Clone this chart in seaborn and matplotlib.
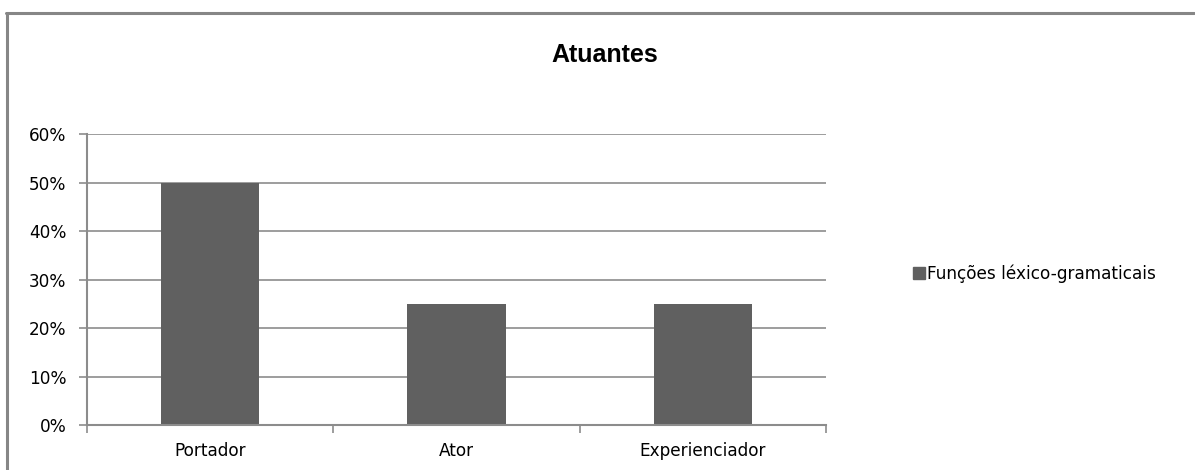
import matplotlib
matplotlib.use("Agg")
import matplotlib.pyplot as plt
import seaborn as sns
import pandas as pd
from matplotlib.lines import Line2D
from matplotlib.ticker import PercentFormatter, FixedLocator

categories = ["Portador", "Ator", "Experienciador"]
values = [0.50, 0.25, 0.25]
series_name = "Funções léxico-gramaticais"
title = "Atuantes"

sns.set_theme(style="white")
plt.rcParams["font.family"] = ["DejaVu Sans"]

df = pd.DataFrame({"categoria": categories, "valor": values, "serie": series_name})

fig = plt.figure(figsize=(11.95, 4.70), dpi=100)
ax = fig.add_axes([0.0728, 0.0957, 0.6184, 0.6192])

grid_c = "#8c8c8c"
bar_c = "#606060"
label_size = 12.2

sns.barplot(data=df, x="categoria", y="valor", hue="serie", palette=[bar_c],
            width=0.4, ax=ax, saturation=1, legend=True)

ax.set_ylim(0, 0.6)
ax.set_xlim(-0.5, 2.5)
ax.yaxis.set_major_locator(FixedLocator([i / 10 for i in range(7)]))
ax.yaxis.set_major_formatter(PercentFormatter(1.0, decimals=0))
ax.grid(axis="y", color=grid_c, linewidth=1.2)
ax.set_axisbelow(True)
ax.set_xlabel("")
ax.set_ylabel("")

for s in ["top", "right"]:
    ax.spines[s].set_visible(False)
for s in ["left", "bottom"]:
    ax.spines[s].set_color(grid_c)
    ax.spines[s].set_linewidth(1.5)

ax.tick_params(axis="y", which="major", direction="out", length=6, width=1.2,
               color=grid_c, labelsize=label_size, labelcolor="#000000", pad=9,
               left=True)
ax.tick_params(axis="x", which="major", length=0, labelsize=label_size,
               labelcolor="#000000", pad=12)
ax.xaxis.set_minor_locator(FixedLocator([-0.5, 0.5, 1.5, 2.5]))
ax.tick_params(axis="x", which="minor", direction="out", length=6, width=1.2,
               color=grid_c, bottom=True)

for b in ax.patches:
    b.set_edgecolor("none")

leg = ax.legend(handles=[Line2D([], [], marker="s", linestyle="none",
                                markersize=8, color=bar_c)],
                labels=[series_name], loc="center left",
                bbox_to_anchor=(1.11, 0.52), frameon=False, fontsize=label_size,
                handlelength=0.6, handletextpad=0.15, borderaxespad=0,
                labelcolor="#000000")

fig.text(0.506, 0.883, title, ha="center", va="center", fontsize=18,
         fontweight="bold", color="#000000", family="Liberation Sans")

# outer chart frame
fig.add_artist(Line2D([0.005, 0.9995], [0.9723, 0.9723], transform=fig.transFigure,
                      color="#868686", linewidth=2.2))
fig.add_artist(Line2D([0.0058, 0.0058], [0.0, 0.9723], transform=fig.transFigure,
                      color="#868686", linewidth=2.2))

fig.savefig("out.png", dpi=100, facecolor="white")
